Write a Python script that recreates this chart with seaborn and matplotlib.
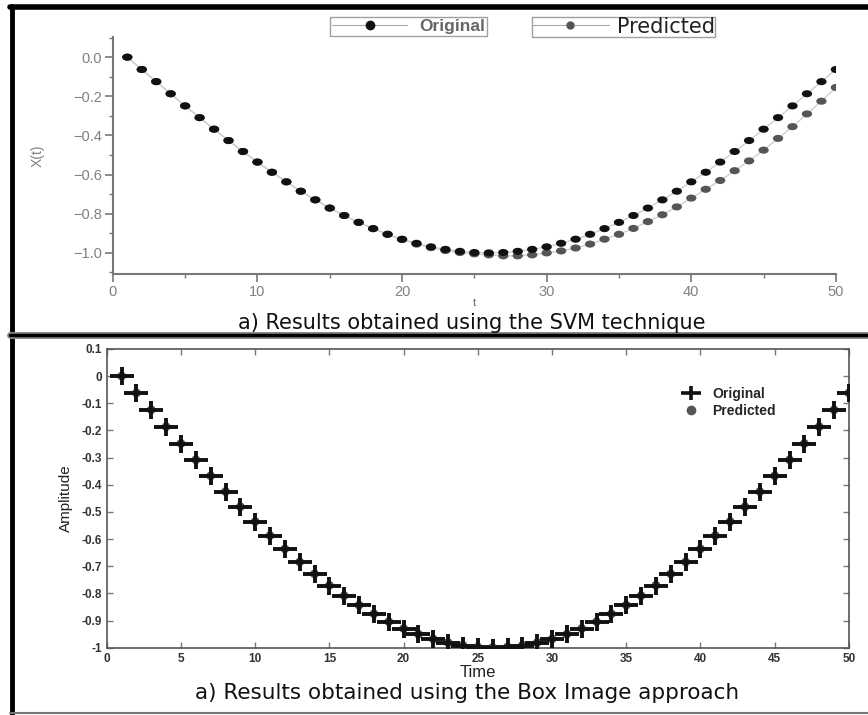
import numpy as np
import pandas as pd
import matplotlib
matplotlib.use("Agg")
import matplotlib.pyplot as plt
import seaborn as sns
from matplotlib.lines import Line2D
from matplotlib.path import Path
from matplotlib.transforms import Affine2D
from matplotlib.ticker import MultipleLocator, FixedLocator

# values
t = list(range(1, 51))
svm_original = [0.0, -0.063, -0.125, -0.187, -0.249, -0.309, -0.368, -0.426, -0.482, -0.536,
                -0.588, -0.637, -0.685, -0.729, -0.771, -0.809, -0.844, -0.876, -0.905, -0.930,
                -0.951, -0.969, -0.982, -0.992, -0.998, -1.000, -0.998, -0.992, -0.982, -0.969,
                -0.951, -0.930, -0.905, -0.876, -0.844, -0.809, -0.771, -0.729, -0.685, -0.637,
                -0.588, -0.536, -0.482, -0.426, -0.368, -0.309, -0.249, -0.187, -0.125, -0.063]
svm_predicted = [0.0, -0.063, -0.125, -0.187, -0.249, -0.309, -0.368, -0.426, -0.482, -0.536,
                 -0.588, -0.637, -0.685, -0.729, -0.771, -0.809, -0.844, -0.876, -0.905, -0.932,
                 -0.955, -0.973, -0.988, -0.998, -1.005, -1.010, -1.015, -1.015, -1.010, -1.000,
                 -0.990, -0.975, -0.955, -0.930, -0.905, -0.875, -0.840, -0.805, -0.765, -0.720,
                 -0.675, -0.630, -0.580, -0.530, -0.475, -0.415, -0.355, -0.290, -0.225, -0.155]
box_original = list(svm_original)
box_predicted = [0.0, -0.062, -0.124, -0.186, -0.248, -0.308, -0.367, -0.425, -0.481, -0.535,
                 -0.587, -0.636, -0.684, -0.728, -0.770, -0.808, -0.843, -0.875, -0.904, -0.929,
                 -0.950, -0.968, -0.981, -0.991, -0.997, -0.999, -0.997, -0.991, -0.981, -0.968,
                 -0.950, -0.929, -0.904, -0.875, -0.843, -0.808, -0.770, -0.728, -0.684, -0.636,
                 -0.587, -0.535, -0.481, -0.425, -0.367, -0.308, -0.248, -0.186, -0.124, -0.062]

top_yticks = [0.0, -0.2, -0.4, -0.6, -0.8, -1.0]
top_yticklabels = ["0.0", "\u22120.2", "\u22120.4", "\u22120.6", "\u22120.8", "\u22121.0"]
top_xticks = [0, 10, 20, 30, 40, 50]
bot_yticks = [0.1, 0, -0.1, -0.2, -0.3, -0.4, -0.5, -0.6, -0.7, -0.8, -0.9, -1]
bot_yticklabels = ["0.1", "0", "-0.1", "-0.2", "-0.3", "-0.4", "-0.5",
                   "-0.6", "-0.7", "-0.8", "-0.9", "-1"]
bot_xticks = [0, 5, 10, 15, 20, 25, 30, 35, 40, 45, 50]

svm_df = pd.DataFrame({"t": t, "orig": svm_original, "pred": svm_predicted})
box_df = pd.DataFrame({"t": t, "orig": box_original, "pred": box_predicted})

sns.set_theme(style="white")
plt.rcParams["font.family"] = ["Liberation Sans", "DejaVu Sans"]

fig = plt.figure(figsize=(8.68, 7.15), dpi=100)

# wide ellipse marker like the blurry dots of the original
ellipse = Path.unit_circle().transformed(Affine2D().scale(1.45, 1.0))
# plus with a longer horizontal arm
wide_plus = Path([(-1.4, 0), (1.4, 0), (0, -1), (0, 1)],
                 [Path.MOVETO, Path.LINETO, Path.MOVETO, Path.LINETO])

# ---------------- top panel (SVM) ----------------
ax1 = fig.add_axes([0.130, 0.617, 0.833, 0.331])
sns.lineplot(data=svm_df, x="t", y="orig", ax=ax1, color="#cfcfcf", lw=1.0)
sns.lineplot(data=svm_df, x="t", y="pred", ax=ax1, color="#cfcfcf", lw=1.0)
sns.scatterplot(data=svm_df, x="t", y="pred", ax=ax1, marker=ellipse, s=55,
                color="#555555", edgecolor="none", zorder=3)
sns.scatterplot(data=svm_df, x="t", y="orig", ax=ax1, marker=ellipse, s=55,
                color="#111111", edgecolor="none", zorder=4)
ax1.set_xlim(0, 50)
ax1.set_ylim(-1.107, 0.102)
ax1.xaxis.set_major_locator(FixedLocator(top_xticks))
ax1.xaxis.set_minor_locator(MultipleLocator(5))
ax1.yaxis.set_major_locator(FixedLocator(top_yticks))
ax1.yaxis.set_minor_locator(FixedLocator([0.1, -0.1, -0.3, -0.5, -0.7, -0.9, -1.1]))
ax1.set_yticklabels(top_yticklabels)
for side in ["top", "right"]:
    ax1.spines[side].set_visible(False)
for side in ["left", "bottom"]:
    ax1.spines[side].set_color("#777777")
    ax1.spines[side].set_linewidth(1.5)
ax1.tick_params(which="major", direction="out", length=6, width=1.2, color="#777777",
                labelsize=10.5, labelcolor="#808080", left=True, bottom=True, pad=2)
ax1.tick_params(which="minor", direction="out", length=3, width=1.0, color="#777777",
                left=True, bottom=True)
ax1.set_xlabel("t", fontsize=8, color="#666666")
ax1.xaxis.set_label_coords(0.5, -0.10)
ax1.set_ylabel("X(t)", fontsize=10, color="#808080", labelpad=20)

h_orig = Line2D([], [], color="#aaaaaa", lw=0.8, marker="o", markersize=6,
                markerfacecolor="#111111", markeredgecolor="#111111")
h_pred = Line2D([], [], color="#aaaaaa", lw=0.8, marker="o", markersize=5,
                markerfacecolor="#555555", markeredgecolor="#555555")
leg1 = ax1.legend([h_orig], ["Original"], loc="center", bbox_to_anchor=(0.409, 1.044),
                  frameon=True, fancybox=False, handlelength=4.3,
                  borderpad=0.1, handletextpad=0.7, borderaxespad=0,
                  prop={"weight": "bold", "size": 12.5})
leg1.get_frame().set_edgecolor("#888888")
leg1.get_texts()[0].set_color("#666666")
ax1.add_artist(leg1)
leg2 = ax1.legend([h_pred], ["Predicted"], loc="center", bbox_to_anchor=(0.706, 1.044),
                  frameon=True, fancybox=False, handlelength=3.7, borderpad=0.0,
                  handletextpad=0.4, borderaxespad=0,
                  prop={"family": "DejaVu Sans", "size": 15})
leg2.get_frame().set_edgecolor("#888888")
leg2.get_texts()[0].set_color("#222222")

# ---------------- bottom panel (Box Image) ----------------
ax2 = fig.add_axes([0.123, 0.094, 0.855, 0.418])
sns.scatterplot(data=box_df, x="t", y="pred", ax=ax2, marker="o", s=40,
                color="#555555", edgecolor="none", zorder=3)
sns.scatterplot(data=box_df, x="t", y="orig", ax=ax2, marker=wide_plus, s=300,
                color="#111111", edgecolor="#111111", linewidth=2.8, zorder=4)
ax2.set_xlim(0, 50)
ax2.set_ylim(-1, 0.1)
ax2.xaxis.set_major_locator(FixedLocator(bot_xticks))
ax2.yaxis.set_major_locator(FixedLocator(bot_yticks))
ax2.set_yticklabels(bot_yticklabels)
for side in ["top", "right", "left", "bottom"]:
    ax2.spines[side].set_visible(True)
    ax2.spines[side].set_color("#555555")
    ax2.spines[side].set_linewidth(1.2)
ax2.tick_params(direction="in", length=4, width=1.0, color="#777777",
                top=True, right=True, left=True, bottom=True,
                labelsize=8.5, labelcolor="#333333")
for lab in ax2.get_xticklabels() + ax2.get_yticklabels():
    lab.set_fontweight("bold")
ax2.set_xlabel("Time", fontsize=12, color="#222222", labelpad=0)
ax2.set_ylabel("Amplitude", fontsize=11, color="#222222", labelpad=6)

h_bo = Line2D([], [], ls="none", marker=wide_plus, markersize=15, mew=2.6, color="#111111")
h_bp = Line2D([], [], ls="none", marker="o", markersize=6, color="#555555")
ax2.legend([h_bo, h_bp], ["Original", "Predicted"], loc="upper left",
           bbox_to_anchor=(0.752, 0.915), frameon=False, handletextpad=0.5,
           labelspacing=0.2, prop={"weight": "bold", "size": 10})

# ---------------- captions and frame ----------------
fig.text(0.544, 1 - 323 / 715, "a) Results obtained using the SVM technique",
         ha="center", va="center", fontsize=15, family="DejaVu Sans", color="#111111")
fig.text(0.538, 1 - 693 / 715, "a) Results obtained using the Box Image approach",
         ha="center", va="center", fontsize=15.5, family="DejaVu Sans", color="#111111")

fig.add_artist(Line2D([0.014, 0.014], [0.0, 0.992], color="black", lw=3.5,
                      transform=fig.transFigure))
fig.add_artist(Line2D([0.012, 1.0], [0.990, 0.990], color="black", lw=4.0,
                      transform=fig.transFigure))
fig.add_artist(Line2D([0.012, 1.0], [1 - 335 / 715, 1 - 335 / 715], color="#888888",
                      lw=5.0, transform=fig.transFigure))
fig.add_artist(Line2D([0.012, 1.0], [1 - 335 / 715, 1 - 335 / 715], color="black",
                      lw=2.5, transform=fig.transFigure))
fig.add_artist(Line2D([0.012, 1.0], [0.003, 0.003], color="#777777", lw=1.5,
                      transform=fig.transFigure))

fig.savefig("out.png", dpi=100)
